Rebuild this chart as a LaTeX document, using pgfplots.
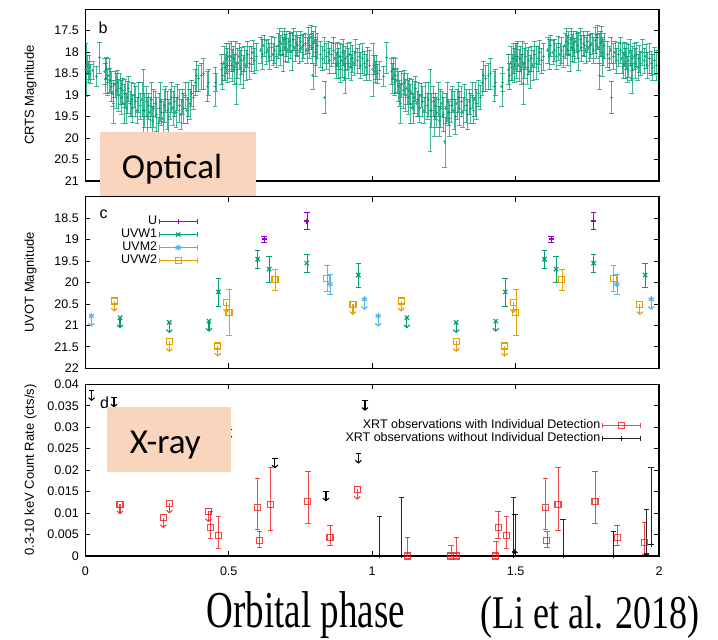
\documentclass[border=0pt]{standalone}
\usepackage{pgfplots}
\pgfplotsset{compat=1.18}
\usepackage{pgfplotstable}
\usepackage{fontspec}
\setmainfont{Liberation Sans}
\newfontfamily\calibrifont{Carlito}
\newfontfamily\timesfont{Liberation Serif}
\usetikzlibrary{arrows.meta}

\definecolor{gpgreen}{RGB}{0,158,115}
\definecolor{gppurple}{RGB}{148,0,211}
\definecolor{gpblue}{RGB}{86,180,233}
\definecolor{gporange}{RGB}{230,159,0}
\definecolor{gpred}{RGB}{236,28,28}
\definecolor{boxpeach}{RGB}{249,213,189}

% CRTS folded light curve (phase 0-1), drawn for two cycles
\pgfplotstableread{
ph mag err
0.002 18.40 0.62
0.006 18.30 0.22
0.010 18.45 0.25
0.013 18.35 0.28
0.018 18.50 0.22
0.026 18.42 0.20
0.039 18.56 0.23
0.049 18.12 0.36
0.068 18.45 0.30
0.071 18.60 0.35
0.074 18.38 0.26
0.078 18.70 0.30
0.082 18.55 0.40
0.086 18.65 0.28
0.092 18.80 0.35
0.096 18.95 0.30
0.099 19.19 0.46
0.103 18.75 0.30
0.108 18.90 0.40
0.112 18.70 0.28
0.116 19.00 0.38
0.121 18.85 0.35
0.125 19.05 0.40
0.130 18.90 0.30
0.134 19.20 0.45
0.138 18.95 0.32
0.142 19.30 0.35
0.147 19.05 0.38
0.151 18.85 0.30
0.156 19.20 0.30
0.160 19.10 0.40
0.165 19.30 0.32
0.170 19.00 0.28
0.175 19.15 0.35
0.180 19.35 0.30
0.186 19.05 0.35
0.192 19.25 0.30
0.197 19.10 0.40
0.202 19.35 0.95
0.207 19.35 0.40
0.212 19.15 0.35
0.216 19.50 0.45
0.220 19.25 0.30
0.225 19.40 0.35
0.230 19.10 0.40
0.234 19.60 0.35
0.238 19.30 0.45
0.243 19.20 0.30
0.248 19.45 0.40
0.253 20.09 0.58
0.257 19.30 0.35
0.262 19.15 0.45
0.266 19.40 0.30
0.270 19.55 0.40
0.275 19.25 0.38
0.280 19.10 0.30
0.285 19.35 0.45
0.290 19.50 0.40
0.295 19.20 0.35
0.300 19.05 0.35
0.305 19.30 0.40
0.310 19.15 0.35
0.316 19.40 0.35
0.322 19.05 0.30
0.327 19.25 0.38
0.333 19.45 0.35
0.338 19.15 0.30
0.343 19.30 0.35
0.348 19.00 0.30
0.354 19.35 0.30
0.358 19.10 0.40
0.364 19.20 0.35
0.370 18.95 0.30
0.376 19.05 0.28
0.383 18.70 0.30
0.388 18.55 0.35
0.394 18.60 0.30
0.405 18.55 0.30
0.412 18.50 0.35
0.425 18.80 0.35
0.430 18.70 0.30
0.452 18.80 0.45
0.455 18.70 0.20
0.474 18.40 0.35
0.478 18.55 0.30
0.483 18.25 0.40
0.487 18.35 0.30
0.492 18.15 0.35
0.496 18.30 0.40
0.500 18.10 0.30
0.503 18.20 0.40
0.507 18.10 0.35
0.511 18.30 0.38
0.515 18.15 0.30
0.520 18.40 0.35
0.524 18.05 0.30
0.527 18.72 0.48
0.531 18.25 0.35
0.535 18.10 0.30
0.540 18.35 0.40
0.545 18.20 0.32
0.550 18.45 0.38
0.555 18.15 0.30
0.560 18.30 0.35
0.566 18.05 0.30
0.572 18.25 0.38
0.578 18.15 0.30
0.584 18.00 0.28
0.590 18.20 0.30
0.596 18.10 0.32
0.612 17.95 0.30
0.617 18.05 0.35
0.622 17.85 0.25
0.630 18.00 0.28
0.636 17.95 0.25
0.642 18.10 0.30
0.648 17.90 0.28
0.654 18.05 0.25
0.660 17.95 0.30
0.666 18.10 0.25
0.672 17.85 0.30
0.677 17.75 0.30
0.681 17.95 0.35
0.685 17.80 0.28
0.689 18.05 0.40
0.693 17.70 0.25
0.697 17.90 0.32
0.702 17.80 0.30
0.706 17.95 0.28
0.710 17.75 0.25
0.715 17.85 0.30
0.720 17.98 0.45
0.725 17.70 0.25
0.730 17.90 0.30
0.735 17.80 0.28
0.740 17.85 0.25
0.745 17.95 0.30
0.750 17.75 0.25
0.755 17.90 0.30
0.760 17.85 0.28
0.766 17.80 0.25
0.772 17.95 0.30
0.778 17.72 0.30
0.782 17.85 0.28
0.786 17.65 0.28
0.790 17.90 0.35
0.793 18.55 0.30
0.796 17.80 0.30
0.800 17.75 0.35
0.802 18.10 0.45
0.804 18.00 0.30
0.808 17.85 0.30
0.820 18.05 0.30
0.826 18.15 0.28
0.832 17.95 0.30
0.835 19.05 0.38
0.840 18.10 0.30
0.846 18.00 0.25
0.852 18.20 0.30
0.858 18.05 0.28
0.865 17.95 0.30
0.870 18.15 0.35
0.875 18.30 0.30
0.879 18.05 0.28
0.883 18.25 0.35
0.887 18.10 0.30
0.890 18.40 0.30
0.894 18.20 0.38
0.898 18.00 0.30
0.902 18.30 0.35
0.905 18.60 0.35
0.906 18.15 0.28
0.914 18.10 0.30
0.918 18.25 0.35
0.922 18.05 0.28
0.926 18.35 0.30
0.930 18.15 0.32
0.936 18.25 0.28
0.942 18.00 0.30
0.948 18.20 0.30
0.954 18.10 0.28
0.960 18.30 0.30
0.966 18.15 0.35
0.972 18.25 0.28
0.978 18.35 0.30
0.984 18.20 0.32
0.990 18.30 0.35
}\crts

% UVOT photometry (phase 0-1): detections and upper limits
\pgfplotstableread{
ph mag err
0.624 18.99 0.07
0.772 18.57 0.20
}\Udet
\pgfplotstableread{
ph mag err
0.464 20.22 0.33
0.601 19.46 0.21
0.641 19.69 0.30
0.772 19.55 0.20
0.952 19.83 0.27
}\Wonedet
\pgfplotstableread{
ph mag
0.121 20.82
0.293 20.93
0.431 20.90
}\Woneul
\pgfplotstableread{
ph mag err
0.853 20.04 0.23
}\Mtwodet
\pgfplotstableread{
ph mag
0.021 20.78
0.973 20.39
}\Mtwoul
\pgfplotstableread{
ph mag err
0.501 20.70 0.54
0.661 19.94 0.25
0.842 19.90 0.30
}\Wtwodet
\pgfplotstableread{
ph mag
0.101 20.43
0.293 21.37
0.462 21.48
0.492 20.46
0.933 20.51
}\Wtwoul

% XRT count rates
\pgfplotstableread{
ph r ep em
0.437 0.0067 0.0037 0.0026
0.464 0.0047 0.0045 0.0029
0.601 0.0113 0.0068 0.0050
0.607 0.0037 0.0020 0.0017
0.646 0.0119 0.0088 0.0060
0.776 0.0127 0.0070 0.0051
0.853 0.0044 0.0028 0.0020
1.123 0.0000 0.0044 0.0000
1.274 0.0000 0.0024 0.0000
1.294 0.0000 0.0044 0.0000
1.431 0.0000 0.0035 0.0000
1.439 0.0067 0.0037 0.0026
1.468 0.0047 0.0045 0.0029
1.605 0.0113 0.0068 0.0050
1.609 0.0037 0.0020 0.0017
1.648 0.0119 0.0088 0.0060
1.777 0.0127 0.0070 0.0051
1.854 0.0044 0.0028 0.0020
1.950 0.0031 0.0048 0.0026
}\xrtdet
\pgfplotstableread{
ph r
0.121 0.0121
0.272 0.0089
0.293 0.0123
0.429 0.0103
0.948 0.0155
}\xrtdetul
\pgfplotstableread{
ph r ep em
1.025 0.0000 0.0092 0
1.103 0.0000 0.0137 0
1.493 0.0000 0.0136 0
1.497 0.0010 0.0087 0
1.666 0.0000 0.0085 0
1.842 0.0000 0.0057 0
1.956 0.0005 0.0104 0
1.973 0.0027 0.0179 0
}\xrtnon
\pgfplotstableread{
ph r
0.022 0.0385
0.100 0.0370
0.500 0.0295
0.661 0.0228
0.839 0.0151
0.952 0.0239
0.975 0.0362
}\xrtnonul

\pgfplotsset{
  panel/.style={
    scale only axis, width=573.7pt, height=171.7pt,
    xmin=0, xmax=2, xtick={0,0.5,1,1.5,2},
    scaled ticks=false,
    tick align=inside, major tick length=5pt,
    tick style={black, line width=0.8pt},
    axis line style={black, line width=1.1pt},
    ticklabel style={font=\fontsize{12.5}{14}\selectfont},
    yticklabel style={xshift=-3pt},
    ylabel style={at={(axis description cs:-0.0955,0.5)}, anchor=center,
                  font=\fontsize{13}{15}\selectfont},
  },
  gpbar/.style={only marks,
    error bars/y dir=both, error bars/y explicit,
    error bars/error bar style={solid},
    error bars/error mark options={rotate=90, mark size=2.8pt}},
  gpleg/.style={legend image code/.code={
      \draw[##1] (0pt,0pt) -- (38pt,0pt);
      \draw[##1] (0pt,-2.8pt) -- (0pt,2.8pt);
      \draw[##1] (38pt,-2.8pt) -- (38pt,2.8pt);
      \draw[##1] plot coordinates {(19pt,0pt)};}},
  ularrow/.style={-{Straight Barb[length=2.6pt,width=6pt]}},
}

\begin{document}
\begin{tikzpicture}
\useasboundingbox (0,0) rectangle (718pt,640pt);

% ---------------- optical (CRTS) ----------------
\begin{axis}[panel, at={(85.3pt,459pt)}, anchor=south west,
  ymin=17, ymax=21, y dir=reverse,
  ytick={17.5,18,18.5,19,19.5,20,20.5,21},
  yticklabels={17.5,18,18.5,19,19.5,20,20.5,21},
  xticklabels={},
  ylabel={CRTS Magnitude}]
\addplot[gpbar, gpgreen, opacity=0.75, line width=0.9pt, mark=+, mark size=1.6pt,
  error bars/error mark options={rotate=90, mark size=2.4pt}]
  table[x=ph, y=mag, y error=err] {\crts};
\addplot[gpbar, gpgreen, opacity=0.75, line width=0.9pt, mark=+, mark size=1.6pt,
  error bars/error mark options={rotate=90, mark size=2.4pt}]
  table[x expr=\thisrow{ph}+1, y=mag, y error=err] {\crts};
\end{axis}

% ---------------- UV (UVOT) ----------------
\begin{axis}[panel, at={(85.3pt,271.7pt)}, anchor=south west,
  ymin=18, ymax=22, y dir=reverse,
  ytick={18.5,19,19.5,20,20.5,21,21.5,22},
  yticklabels={18.5,19,19.5,20,20.5,21,21.5,22},
  xticklabels={},
  ylabel={UVOT Magnitude},
  legend plot pos=right, legend cell align=right,
  legend style={at={(0.2017,0.905)}, anchor=north east, draw=none, fill=none,
    font=\fontsize{12.5}{14}\selectfont, row sep=0pt,
    nodes={inner sep=1.5pt, text height=8pt, text depth=2pt}}]
\addplot[gpbar, gpleg, gppurple, line width=1.2pt, mark=+, mark size=2.5pt]
  table[x=ph, y=mag, y error=err] {\Udet};
\addlegendentry{U}
\addplot[gpbar, gpleg, gpgreen, line width=1.2pt, mark=x, mark size=3pt]
  table[x=ph, y=mag, y error=err] {\Wonedet};
\addlegendentry{UVW1}
\addplot[gpbar, gpleg, gpblue, line width=1.2pt, mark=asterisk, mark size=3pt]
  table[x=ph, y=mag, y error=err] {\Mtwodet};
\addlegendentry{UVM2}
\addplot[gpbar, gpleg, gporange, line width=1.2pt, mark=square, mark size=3pt]
  table[x=ph, y=mag, y error=err] {\Wtwodet};
\addlegendentry{UVW2}
% second cycle of detections
\addplot[gpbar, gppurple, line width=1.2pt, mark=+, mark size=2.5pt, forget plot]
  table[x expr=\thisrow{ph}+1, y=mag, y error=err] {\Udet};
\addplot[gpbar, gpgreen, line width=1.2pt, mark=x, mark size=3pt, forget plot]
  table[x expr=\thisrow{ph}+1, y=mag, y error=err] {\Wonedet};
\addplot[gpbar, gpblue, line width=1.2pt, mark=asterisk, mark size=3pt, forget plot]
  table[x expr=\thisrow{ph}+1, y=mag, y error=err] {\Mtwodet};
\addplot[gpbar, gporange, line width=1.2pt, mark=square, mark size=3pt, forget plot]
  table[x expr=\thisrow{ph}+1, y=mag, y error=err] {\Wtwodet};
% upper limits, both cycles
\pgfplotsinvokeforeach{0,1}{
\addplot[gpgreen, line width=1.2pt, ularrow, quiver={u=0, v=0.25}, forget plot]
  table[x expr=\thisrow{ph}+#1, y=mag] {\Woneul};
\addplot[only marks, gpgreen, line width=1.2pt, mark=x, mark size=3pt, forget plot]
  table[x expr=\thisrow{ph}+#1, y=mag] {\Woneul};
\addplot[gpblue, line width=1.2pt, ularrow, quiver={u=0, v=0.25}, forget plot]
  table[x expr=\thisrow{ph}+#1, y=mag] {\Mtwoul};
\addplot[only marks, gpblue, line width=1.2pt, mark=asterisk, mark size=3pt, forget plot]
  table[x expr=\thisrow{ph}+#1, y=mag] {\Mtwoul};
\addplot[gporange, line width=1.2pt, ularrow, quiver={u=0, v=0.25}, forget plot]
  table[x expr=\thisrow{ph}+#1, y=mag] {\Wtwoul};
\addplot[only marks, gporange, line width=1.2pt, mark=square, mark size=3pt, forget plot]
  table[x expr=\thisrow{ph}+#1, y=mag] {\Wtwoul};
}
\end{axis}

% ---------------- X-ray (XRT) ----------------
\begin{axis}[panel, at={(85.3pt,84pt)}, anchor=south west, clip=false,
  ymin=0, ymax=0.04,
  ytick={0,0.005,0.01,0.015,0.02,0.025,0.03,0.035,0.04},
  yticklabels={0,0.005,0.01,0.015,0.02,0.025,0.03,0.035,0.04},
  xticklabels={0,0.5,1,1.5,2},
  xticklabel style={yshift=-7pt},
  ylabel={0.3-10 keV Count Rate (cts/s)},
  legend plot pos=right, legend cell align=right,
  legend style={at={(0.974,0.81)}, anchor=north east, draw=none, fill=none,
    font=\fontsize{12.5}{14}\selectfont, row sep=0pt,
    nodes={inner sep=1.5pt, text height=8pt, text depth=2pt}}]
\addplot[gpbar, gpleg, gpred, opacity=0.8, line width=1.1pt, mark=square, mark size=3pt]
  table[x=ph, y=r, y error plus=ep, y error minus=em] {\xrtdet};
\addlegendentry{XRT observations with Individual Detection}
\addplot[gpbar, gpleg, black, opacity=0.85, line width=1.1pt, mark=+, mark size=2.5pt]
  table[x=ph, y=r, y error plus=ep, y error minus=em] {\xrtnon};
\addlegendentry{XRT observations without Individual Detection}
\addplot[gpred, opacity=0.85, line width=1.1pt, ularrow, quiver={u=0, v=-0.0024}, forget plot]
  table[x=ph, y=r] {\xrtdetul};
\addplot[only marks, gpred, opacity=0.85, line width=1.1pt, mark=square, mark size=3pt, forget plot]
  table[x=ph, y=r] {\xrtdetul};
\addplot[black, line width=1.1pt, ularrow, quiver={u=0, v=-0.0024}, forget plot]
  table[x=ph, y=r] {\xrtnonul};
\addplot[only marks, black, line width=1.1pt, mark=-, mark size=2.8pt, forget plot]
  table[x=ph, y=r] {\xrtnonul};
\end{axis}

% panel letters
\node[anchor=base west, font=\fontsize{16}{18}\selectfont] at (95pt,606.7pt) {b};
\node[anchor=base west, font=\fontsize{16}{18}\selectfont] at (96pt,421.7pt) {c};
\node[anchor=base west, font=\fontsize{16}{18}\selectfont] at (96.5pt,231.7pt) {d};

% band labels
\fill[boxpeach] (100pt,444pt) rectangle (256pt,508pt);
\node[anchor=base, font=\calibrifont\fontsize{35}{40}\selectfont] at (172pt,461.7pt) {Optical};
\fill[boxpeach] (106.7pt,168pt) rectangle (231pt,233pt);
\node[anchor=base, font=\calibrifont\fontsize{35}{40}\selectfont] at (165.3pt,186pt) {X-ray};

% common axis title and reference
\node[anchor=base, inner sep=0pt, font=\timesfont\fontsize{37}{40}\selectfont] at (306pt,12pt)
  {\scalebox{1}[1.4]{Orbital phase}};
\node[anchor=base west, inner sep=0pt, font=\timesfont\fontsize{36}{40}\selectfont] at (480pt,11.5pt)
  {\scalebox{1}[1.3]{(Li et al. 2018)}};
\end{tikzpicture}
\end{document}
